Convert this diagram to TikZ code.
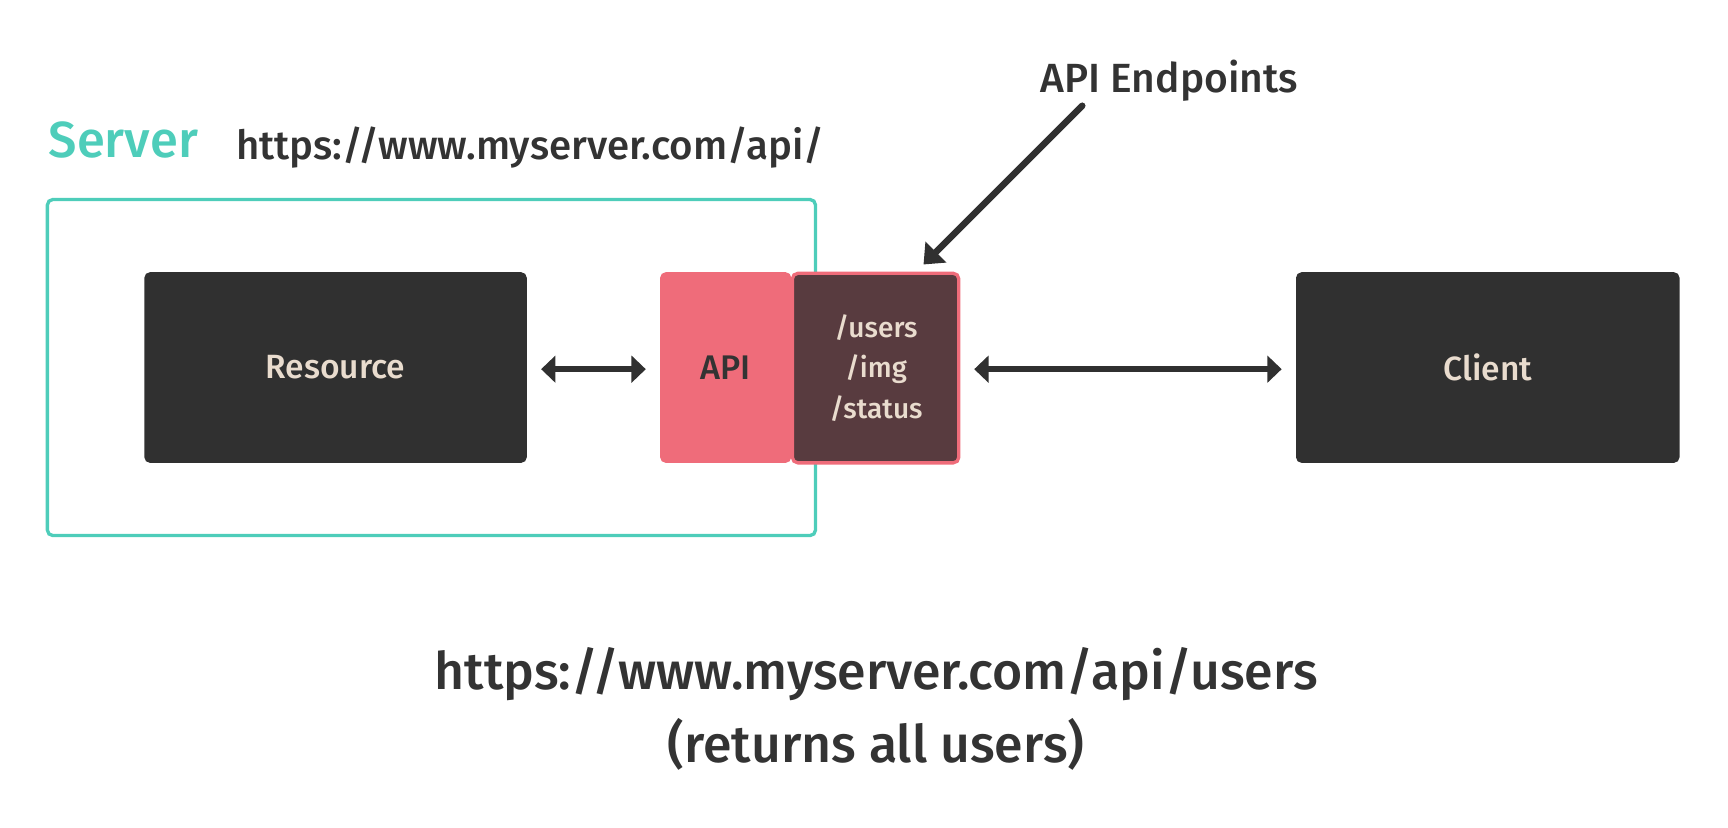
\documentclass[tikz,border=0pt]{standalone}
\usepackage{fontspec}
\setmainfont{Fira Sans}[UprightFont=* Medium]
\usetikzlibrary{arrows.meta}
\definecolor{teal}{HTML}{4ECDBA}
\definecolor{dark}{HTML}{303030}
\definecolor{pinkr}{HTML}{EF6C7A}
\definecolor{epfill}{HTML}{583B3F}
\definecolor{beige}{HTML}{E9DCCE}
\definecolor{txt}{HTML}{333333}
\tikzset{
  box/.style={rounded corners=5pt, inner sep=0pt},
  darkbox/.style={box, fill=dark, text=beige, font=\fontsize{30.5}{34}\selectfont},
  conn/.style={line width=6pt, draw=dark, {Triangle[length=13pt,width=24pt]}-{Triangle[length=13pt,width=24pt]}},
  ptr/.style={line width=6pt, draw=dark, -{Triangle[length=16pt,width=26pt]}, line cap=round},
  lbl/.style={text=txt, inner sep=0pt},
}
\begin{document}
\begin{tikzpicture}[x=1pt,y=-1pt]
\useasboundingbox (0,0) rectangle (1568,751);
% server box
\draw[teal, line width=3pt, rounded corners=5pt] (43,181) rectangle (740,486);
\node[lbl, text=teal, anchor=base west, font=\fontsize{46}{50}\selectfont] (srv) at (44,142.5) {Server};
\node[lbl, anchor=base west, font=\fontsize{36.5}{40}\selectfont] (url) at (214,145) {https://www.myserver.com/api/};
% boxes
\path[darkbox] (131,247) rectangle (478,420);
\node[darkbox, minimum width=347pt, minimum height=173pt, fill=none] (res) at (304.5,333.5) {Resource};
\path[box, fill=pinkr] (599,247) rectangle (718,420);
\node[lbl, font=\fontsize{31}{34}\selectfont] (api) at (658.5,333.5) {API};
\draw[box, fill=epfill, draw=pinkr, line width=3pt] (719,248) rectangle (870,420);
\node[lbl, text=beige, align=center, font=\fontsize{25.5}{37}\selectfont] (ep) at (795,334) {/users\\/img\\/status};
\path[darkbox] (1176,247) rectangle (1524,420);
\node[darkbox, minimum width=348pt, minimum height=173pt, fill=none] (cli) at (1350,333.5) {Client};
% anchors for connectors
\coordinate (resE) at (478,335);
\coordinate (apiW) at (599,335);
\coordinate (epE) at (871,335);
\coordinate (cliW) at (1176,335);
\draw[conn, shorten <=13pt, shorten >=13pt] (resE) -- (apiW);
\draw[conn, shorten <=13pt, shorten >=13pt] (epE) -- (cliW);
% API endpoints label
\node[lbl, anchor=base, font=\fontsize{37}{42}\selectfont] (epl) at (1061,84) {API Endpoints};
\coordinate (ptrS) at (982,96);
\coordinate (ptrE) at (838,240);
\draw[ptr] (ptrS) -- (ptrE);
% bottom text
\node[lbl, anchor=base, font=\fontsize{47}{50}\selectfont] (b1) at (795,626) {https://www.myserver.com/api/users};
\node[lbl, anchor=base, font=\fontsize{47}{50}\selectfont] (b2) at (795,692) {(returns all users)};
\end{tikzpicture}
\end{document}
